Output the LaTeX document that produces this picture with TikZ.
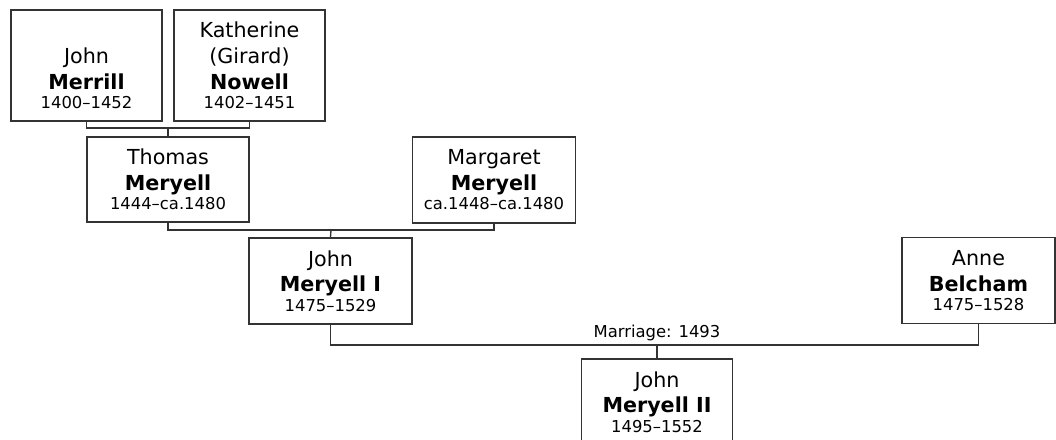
\documentclass[tikz,border=0pt]{standalone}
\usepackage{fontspec}
\setmainfont{DejaVu Sans}
\usetikzlibrary{positioning}

% one person box: first name, family name, dates
\newcommand{\datefont}{\fontsize{12.3}{14}\selectfont}
\newcommand{\person}[3]{#1\\\textbf{#2}\\[-4.8pt]{\datefont #3}}

\begin{document}
\begin{tikzpicture}[x=0.75pt, y=-0.75pt,
    personbox/.style={draw=black!80, line width=1pt, align=center,
      inner sep=0pt, font=\fontsize{15.5}{19.3}\selectfont},
    link/.style={draw=black!80, line width=1pt}]
  \useasboundingbox (0,0) rectangle (1056,439);

  % Grandparents
  \node[personbox, minimum width=151*0.75pt, minimum height=111*0.75pt]
    (merrill) at (86.5,65.5) {\vphantom{Kh}\\\person{John}{Merrill}{1400–1452}};
  \node[personbox, minimum width=151*0.75pt, minimum height=111*0.75pt]
    (katherine) at (249.5,65.5) {Katherine\\\person{(Girard)}{Nowell}{1402–1451}};

  % Parents
  \node[personbox, minimum width=162*0.75pt, minimum height=85*0.75pt]
    (thomas) at (168,179.5) {\person{Thomas}{Meryell}{1444–ca.1480}};
  \node[personbox, minimum width=163*0.75pt, minimum height=86*0.75pt]
    (margaret) at (494,180) {\person{Margaret}{Meryell}{ca.1448–ca.1480}};

  % Couple
  \node[personbox, minimum width=163*0.75pt, minimum height=86*0.75pt]
    (johnI) at (330.5,281) {\person{John}{Meryell I}{1475–1529}};
  \node[personbox, minimum width=153*0.75pt, minimum height=86*0.75pt]
    (anne) at (978.5,280.5) {\person{Anne}{Belcham}{1475–1528}};

  % Child
  \node[personbox, minimum width=151*0.75pt, minimum height=86*0.75pt]
    (johnII) at (657,402) {\person{John}{Meryell II}{1495–1552}};

  % Junctions
  \coordinate (j1) at (168,128);
  \coordinate (j2) at (331,230);
  \coordinate (j3) at (657,345);

  \draw[link] (merrill.south) |- (j1) -| (katherine.south);
  \draw[link] (j1) -- (thomas.north);
  \draw[link] (thomas.south) |- (j2) -| (margaret.south);
  \draw[link] (j2) -- (johnI.north);
  \draw[link] (johnI.south) |- (j3) -| (anne.south);
  \draw[link] (j3) -- (johnII.north);

  % Marriage label
  \node[above, inner sep=2.5pt, font=\datefont]
    (marriage) at (j3) {Marriage: 1493};
\end{tikzpicture}
\end{document}
